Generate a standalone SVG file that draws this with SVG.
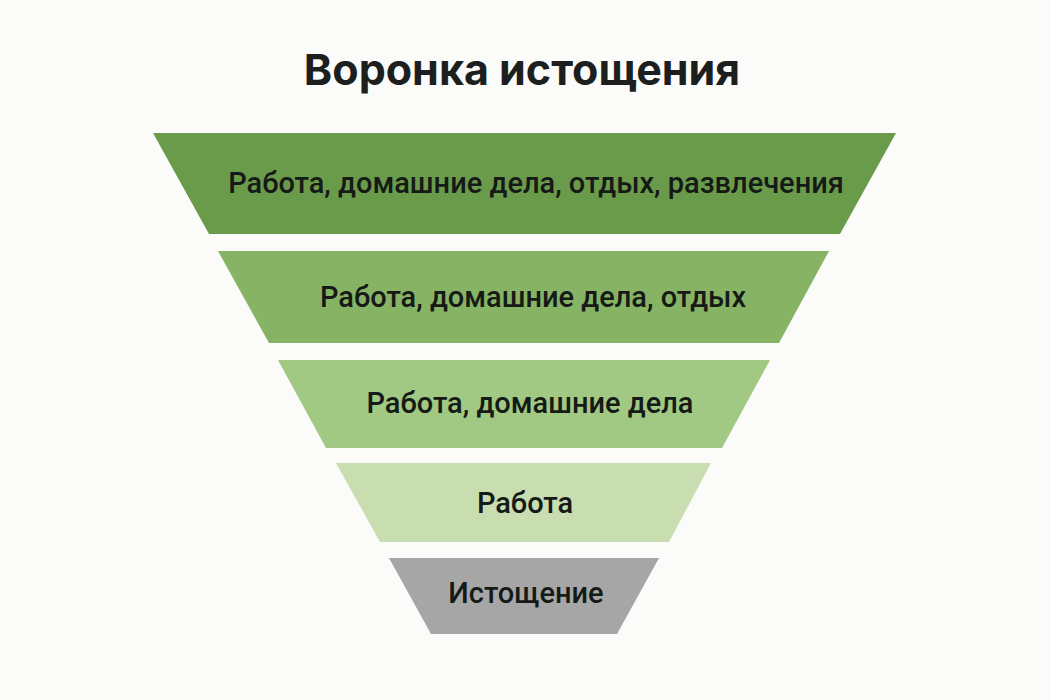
<svg xmlns="http://www.w3.org/2000/svg" width="1050" height="700" viewBox="0 0 1050 700">
<style>
.lbl{font-family:Roboto,"Noto Sans","Liberation Sans",sans-serif;font-size:29px;font-weight:500;fill:#161a16;text-anchor:middle}
.title{font-family:Inter,"Liberation Sans",sans-serif;font-size:43px;font-weight:700;fill:#1c1f1e;text-anchor:middle}
</style>
<rect width="1050" height="700" fill="#fbfbf9"/>
<text class="title" x="522" y="85">Воронка истощения</text>
<g id="tier1">
<polygon points="153,133 896,133 840,234 209,234" fill="#6a9b4b"/>
<text class="lbl" x="536" y="193">Работа, домашние дела, отдых, развлечения</text>
</g>
<g id="tier2">
<polygon points="218,251 829,251 779,343 269,343" fill="#86b464"/>
<text class="lbl" x="533" y="307">Работа, домашние дела, отдых</text>
</g>
<g id="tier3">
<polygon points="278,360 770,360 722,448 326,448" fill="#a1c983"/>
<text class="lbl" x="530" y="413">Работа, домашние дела</text>
</g>
<g id="tier4">
<polygon points="336,463 711,463 669,542 380,542" fill="#c8deb0"/>
<text class="lbl" x="525" y="513">Работа</text>
</g>
<g id="tier5">
<polygon points="389,558 659,558 617,634 431,634" fill="#a6a6a6"/>
<text class="lbl" x="526" y="603">Истощение</text>
</g>
<g id="connectors"/>
</svg>
